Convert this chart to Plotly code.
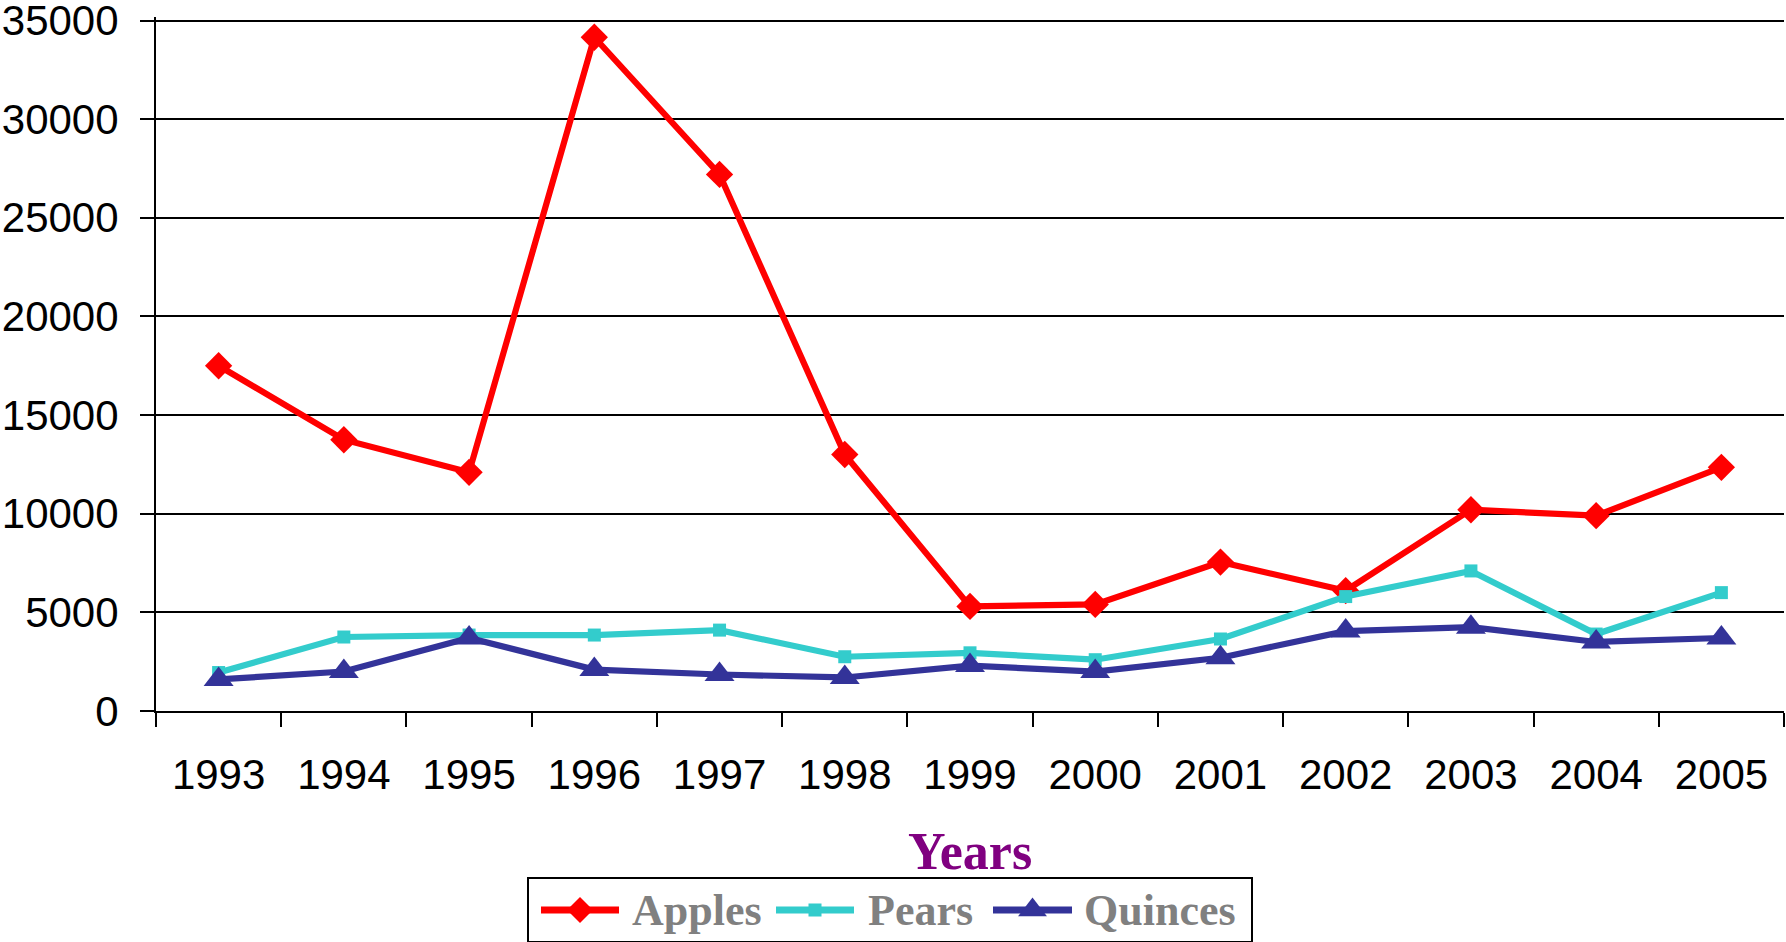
import plotly.graph_objects as go

# ---- data ----
years = ["1993", "1994", "1995", "1996", "1997", "1998", "1999",
         "2000", "2001", "2002", "2003", "2004", "2005"]
apples = [17500, 13750, 12100, 34150, 27200, 13000, 5300, 5400, 7550, 6100, 10200, 9900, 12350]
pears = [1950, 3750, 3850, 3850, 4100, 2750, 2950, 2600, 3650, 5800, 7100, 3900, 6000]
quinces = [1600, 2000, 3700, 2100, 1850, 1700, 2300, 2000, 2700, 4050, 4250, 3500, 3700]
series_names = ["Apples", "Pears", "Quinces"]
y_ticks = [0, 5000, 10000, 15000, 20000, 25000, 30000, 35000]
y_tick_labels = ["0", "5000", "10000", "15000", "20000", "25000", "30000", "35000"]

# ---- styles ----
colors = ["#FF0000", "#33CCCC", "#333399"]
symbols = ["diamond", "square", "triangle-up"]
marker_sizes = [21, 13, 26]
legend_marker_sizes = [20, 13, 25]
LINE_W = 6.2

W, H = 1786, 942
PL, PR, PT, PB = 156, 1784, 20.5, 711  # plot box in pixels (0 .. 35000)
Y_MAX = 35000
Y_PAD = 200  # small headroom so the top gridline is drawn
PT_EXT = PT - Y_PAD * (PB - PT) / Y_MAX

fig = go.Figure()
for name, vals, c, s, ms in zip(series_names, [apples, pears, quinces], colors, symbols, marker_sizes):
    fig.add_trace(go.Scatter(
        x=years, y=vals, name=name, mode="lines+markers",
        line=dict(color=c, width=LINE_W),
        marker=dict(symbol=s, size=ms, color=c, line=dict(width=0)),
        xaxis="x", yaxis="y", showlegend=False, cliponaxis=False,
    ))

# ---- hand-drawn legend on its own small axes ----
legend_layout = [(541, 619, 630), (776, 854, 866), (993, 1072, 1082)]
for name, c, s, ms, (x0, x1, xt) in zip(series_names, colors, symbols, legend_marker_sizes, legend_layout):
    fig.add_trace(go.Scatter(
        x=[x0, x1], y=[0.5, 0.5], mode="lines",
        line=dict(color=c, width=LINE_W + 1),
        xaxis="x2", yaxis="y2", showlegend=False, hoverinfo="skip",
    ))
    fig.add_trace(go.Scatter(
        x=[(x0 + x1) / 2], y=[0.5], mode="markers",
        marker=dict(symbol=s, size=ms, color=c, line=dict(width=0)),
        xaxis="x2", yaxis="y2", showlegend=False, hoverinfo="skip",
    ))
    fig.add_annotation(
        x=xt, y=0.5, xref="x2", yref="y2", text=name, showarrow=False,
        xanchor="left", yanchor="middle",
        font=dict(family="Liberation Serif, Times New Roman, serif", size=44,
                  color="#808080", weight="bold"),
    )

# "Years" axis title
fig.add_annotation(
    x=(PL + PR) / 2 / W, y=(H - 851) / H, xref="paper", yref="paper",
    text="Years", showarrow=False, xanchor="center", yanchor="middle",
    font=dict(family="Liberation Serif, Times New Roman, serif", size=52,
              color="#800080", weight="bold"),
)

tick_font = dict(family="Liberation Sans, Arial, sans-serif", size=42, color="black")

fig.update_layout(
    width=W, height=H,
    margin=dict(l=0, r=0, t=0, b=0, autoexpand=False),
    paper_bgcolor="white", plot_bgcolor="white",
    showlegend=False,
    xaxis=dict(
        type="category", domain=[PL / W, PR / W], range=[-0.5, 12.5],
        tickson="boundaries", ticks="outside", ticklen=14, tickwidth=2, tickcolor="black",
        showline=True, linecolor="black", linewidth=2, showgrid=False,
        tickfont=tick_font, anchor="y", ticklabelstandoff=26, tickangle=0,
        automargin=False, ticklabeloverflow="allow",
    ),
    yaxis=dict(
        domain=[(H - PB) / H, (H - PT_EXT) / H], range=[0, Y_MAX + Y_PAD],
        tickmode="array", tickvals=y_ticks, ticktext=y_tick_labels,
        ticks="outside", ticklen=14, tickwidth=2, tickcolor="black",
        showline=True, linecolor="black", linewidth=2,
        showgrid=True, gridcolor="black", gridwidth=2, zeroline=False,
        tickfont=tick_font, anchor="x", ticklabelstandoff=13, automargin=False,
        ticklabeloverflow="allow",
    ),
    xaxis2=dict(
        domain=[528.5 / W, 1250.6 / W], range=[528.5, 1250.6], anchor="y2",
        showline=True, mirror=True, linecolor="black", linewidth=2,
        showgrid=False, zeroline=False, showticklabels=False, ticks="",
        fixedrange=True, automargin=False,
    ),
    yaxis2=dict(
        domain=[1 / H, 63 / H], range=[0, 1], anchor="x2",
        showline=True, mirror=True, linecolor="black", linewidth=2,
        showgrid=False, zeroline=False, showticklabels=False, ticks="",
        fixedrange=True, automargin=False,
    ),
)

fig.write_html("out.html",
               config={"displayModeBar": False},
               post_script="document.body.style.margin='0';document.body.style.overflow='hidden';")
